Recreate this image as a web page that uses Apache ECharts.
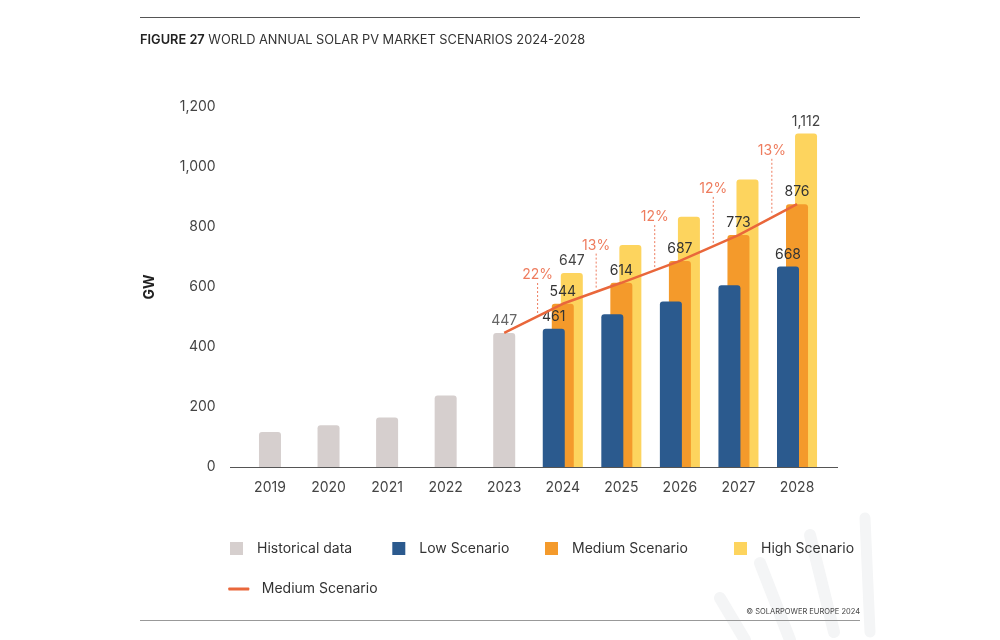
<!DOCTYPE html>
<html>
<head>
<meta charset="utf-8">
<script src="https://cdn.jsdelivr.net/npm/echarts@6/dist/echarts.min.js"></script>
<style>
  html, body { margin: 0; padding: 0; background: #fff; }
  #chart { width: 1000px; height: 640px; }
</style>
</head>
<body>
<div id="chart"></div>
<script>
// 数据
var years = ['2019', '2020', '2021', '2022', '2023', '2024', '2025', '2026', '2027', '2028'];
var historicalYears = ['2019', '2020', '2021', '2022', '2023'];
var historical = [117, 139, 165, 238, 447];
var scenarioYears = ['2024', '2025', '2026', '2027', '2028'];
var low = [461, 509, 552, 606, 668];
var medium = [544, 614, 687, 773, 876];
var high = [647, 740, 834, 958, 1112];
// which scenario bars carry a value label
var lowLabelled = ['2024', '2028'];
var highLabelled = ['2024', '2028'];
// growth of the medium scenario, and the height (GW) its label sits at
var growthText = ['22%', '13%', '12%', '12%', '13%'];
var growthLabelAt = [640, 738, 833, 927, 1054];

var C_HIST = '#D6CFCE', C_LOW = '#2B5A8E', C_MED = '#F49A2B', C_HIGH = '#FDD45E';
var C_LINE = '#E9673B', C_PCT = '#EE7C5E';
var FONT = 'Inter, "Noto Sans", sans-serif';

function fmt(v) { return Number(v).toLocaleString('en-US'); }

function pad(keys, vals) {
  return years.map(function (y) {
    var i = keys.indexOf(y);
    return i < 0 ? '-' : vals[i];
  });
}

function labelled(vals, keys, shown, color) {
  return pad(keys, vals).map(function (v, i) {
    if (v === '-') return v;
    return { value: v, label: { show: shown.indexOf(years[i]) >= 0, color: color } };
  });
}

var histData = historical.map(function (v, i) {
  return { value: v, label: { show: i === historical.length - 1, color: '#666' } };
});
histData = years.map(function (y) {
  var i = historicalYears.indexOf(y);
  return i < 0 ? '-' : histData[i];
});

// the orange line starts at the last historical year
var lineData = pad(['2023'].concat(scenarioYears), [historical[historical.length - 1]].concat(medium));

// growth annotations sit between two years on the line
var growthData = growthText.map(function (t, i) {
  var a = years.indexOf('2023') + i;
  var f = 0.57;
  var onLine = lineData[a] + f * (lineData[a + 1] - lineData[a]);
  return [a + f, growthLabelAt[i], onLine, t];
});

var myChart = echarts.init(document.getElementById('chart'));

var barLabel = { position: 'top', distance: 5, fontFamily: FONT, fontSize: 14, formatter: function (p) { return fmt(p.value); } };

var option = {
  backgroundColor: '#fff',
  animation: false,
  textStyle: { fontFamily: FONT },
  title: {
    text: '{b|FIGURE 27} WORLD ANNUAL SOLAR PV MARKET SCENARIOS 2024-2028',
    left: 140, top: 34, padding: 0,
    textStyle: {
      fontFamily: FONT, fontSize: 12.8, fontWeight: 'normal', color: '#333',
      rich: { b: { fontFamily: FONT, fontSize: 12.8, fontWeight: 600, color: '#222' } }
    }
  },
  grid: { left: 240.7, right: 173.7, top: 107, bottom: 173 },
  xAxis: [
    {
      type: 'category', data: years,
      axisLine: { show: false }, axisTick: { show: false },
      axisLabel: { color: '#444', fontSize: 14, margin: 14, fontFamily: FONT }
    },
    { type: 'category', data: years, show: false },
    { type: 'value', min: -0.5, max: 9.5, show: false }
  ],
  yAxis: {
    type: 'value', min: 0, max: 1200, interval: 200,
    name: 'GW', nameLocation: 'middle', nameGap: 84, nameRotate: 90,
    nameTextStyle: { color: '#222', fontWeight: 'bold', fontSize: 14, fontFamily: FONT },
    axisLine: { show: false }, axisTick: { show: false }, splitLine: { show: false },
    axisLabel: { color: '#444', fontSize: 14, margin: 25, fontFamily: FONT, formatter: fmt }
  },
  legend: [
    { data: ['Historical data'], left: 230, top: 541.5 },
    { data: ['Low Scenario'], left: 392.3, top: 541.5 },
    { data: ['Medium Scenario'], left: 545, top: 541.5 },
    { data: ['High Scenario'], left: 734, top: 541.5 },
    {
      data: ['Medium Scenario line'], left: 228.3, top: 582,
      icon: 'roundRect', itemWidth: 21, itemHeight: 3,
      textStyle: { color: '#333', fontSize: 14, fontFamily: FONT, lineHeight: 14, padding: [0, 0, 0, 7.5] },
      formatter: function () { return 'Medium Scenario'; }
    }
  ].map(function (l) {
    return Object.assign({
      icon: 'rect', itemWidth: 13, itemHeight: 13, padding: 0,
      textStyle: { color: '#333', fontSize: 14, fontFamily: FONT, lineHeight: 14, padding: [0, 0, 0, 9] }
    }, l);
  }),
  series: [
    {
      name: 'Historical data', type: 'bar', xAxisIndex: 1, barWidth: 22,
      itemStyle: { color: C_HIST, borderRadius: [3, 3, 0, 0] },
      label: barLabel, data: histData
    },
    {
      name: 'Low Scenario', type: 'bar', barWidth: 22, barGap: '-59%', z: 4,
      itemStyle: { color: C_LOW, borderRadius: [3, 3, 0, 0] },
      label: barLabel, data: labelled(low, scenarioYears, lowLabelled, '#333')
    },
    {
      name: 'Medium Scenario', type: 'bar', barWidth: 22, barGap: '-59%', z: 3,
      itemStyle: { color: C_MED, borderRadius: [3, 3, 0, 0] },
      label: barLabel, data: labelled(medium, scenarioYears, scenarioYears, '#333')
    },
    {
      name: 'High Scenario', type: 'bar', barWidth: 22, barGap: '-59%', z: 2,
      itemStyle: { color: C_HIGH, borderRadius: [3, 3, 0, 0] },
      label: barLabel, data: labelled(high, scenarioYears, highLabelled, '#444')
    },
    {
      name: 'Medium Scenario line', type: 'line', z: 5,
      showSymbol: false, symbol: 'none',
      lineStyle: { color: C_LINE, width: 2.5 }, itemStyle: { color: C_LINE },
      data: lineData
    },
    {
      name: 'growth', type: 'custom', xAxisIndex: 2, z: 6,
      renderItem: function (params, api) {
        var top = api.coord([api.value(0), api.value(1)]);
        var bot = api.coord([api.value(0), api.value(2)]);
        return {
          type: 'group',
          children: [
            {
              type: 'line',
              shape: { x1: top[0], y1: top[1] + 8, x2: bot[0], y2: bot[1] - 3 },
              style: { stroke: C_PCT, lineWidth: 1, lineDash: [2, 2] }
            },
            {
              type: 'text',
              style: {
                text: growthData[params.dataIndex][3], x: top[0], y: top[1],
                align: 'center', verticalAlign: 'middle',
                fill: C_PCT, font: '14px ' + FONT
              }
            }
          ]
        };
      },
      data: growthData
    }
  ],
  graphic: [
    // faint watermark strokes, bottom right
    { type: 'line', z: -10, shape: { x1: 720, y1: 598, x2: 745, y2: 640 }, style: { stroke: '#F4F5F6', lineWidth: 12, lineCap: 'round' } },
    { type: 'line', z: -10, shape: { x1: 760, y1: 563, x2: 790, y2: 640 }, style: { stroke: '#F4F5F6', lineWidth: 12, lineCap: 'round' } },
    { type: 'line', z: -10, shape: { x1: 810, y1: 535, x2: 834, y2: 632 }, style: { stroke: '#F4F5F6', lineWidth: 12, lineCap: 'round' } },
    { type: 'line', z: -10, shape: { x1: 865, y1: 518, x2: 870, y2: 632 }, style: { stroke: '#F4F5F6', lineWidth: 11, lineCap: 'round' } },
    { type: 'line', shape: { x1: 140, y1: 17.5, x2: 860, y2: 17.5 }, style: { stroke: '#555', lineWidth: 1 } },
    { type: 'line', shape: { x1: 140, y1: 620.5, x2: 860, y2: 620.5 }, style: { stroke: '#999', lineWidth: 1 } },
    { type: 'line', shape: { x1: 230, y1: 467.5, x2: 838, y2: 467.5 }, style: { stroke: '#555', lineWidth: 1 }, z: 1 },
    {
      type: 'text', right: 140, top: 608,
      style: { text: '© SOLARPOWER EUROPE 2024', fill: '#444', font: '7.5px ' + FONT }
    }
  ]
};

myChart.setOption(option);
</script>
</body>
</html>
